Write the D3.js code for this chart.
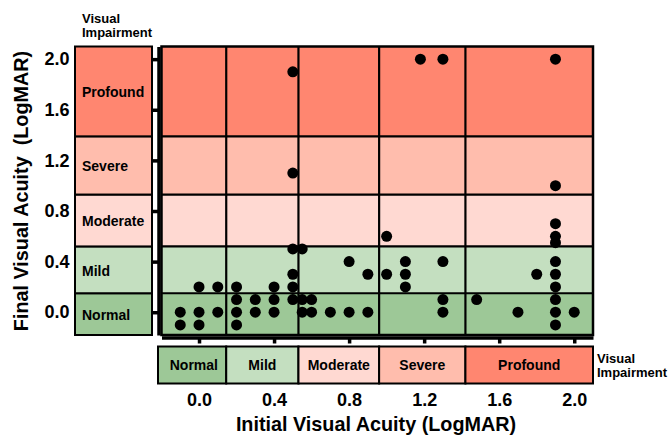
<!DOCTYPE html>
<html>
<head>
<meta charset="utf-8">
<script src="https://cdn.jsdelivr.net/npm/d3@7"></script>
<style>
  html, body { margin: 0; padding: 0; background: #fff; }
  svg { display: block; font-family: "Liberation Sans", Arial, sans-serif; font-weight: bold; }
</style>
</head>
<body>
<svg id="chart" width="671" height="437"></svg>
<script>
// Impairment categories, ordered from best to worst acuity
const levels = ["Normal", "Mild", "Moderate", "Severe", "Profound"];
const levelColors = ["#9dc897", "#c4dfc0", "#ffd9d2", "#ffbdad", "#ff8670"];

// Category boundaries (LogMAR) along each axis, including the axis ends
const xCuts = [-0.2, 0.145, 0.53, 0.96, 1.42, 2.1];
const yCuts = [-0.18, 0.15, 0.52, 0.93, 1.39, 2.1];

// Tick values shared by both axes
const tickValues = [0.0, 0.4, 0.8, 1.2, 1.6, 2.0];

// Patients: initial and final visual acuity (LogMAR)
const initialVA = [
  -0.1, 0.0, 0.1, 0.2, 0.3, 0.4, 0.55, 0.6, 0.7, 0.8, 0.9, 1.3, 1.7, 1.9, 2.0,
  -0.1, 0.0, 0.2, 1.9,
  0.2, 0.3, 0.4, 0.5, 0.55, 0.6, 1.3, 1.48, 1.9,
  0.0, 0.1, 0.2, 0.4, 0.5, 1.1, 1.9,
  0.5, 0.9, 1.0, 1.1, 1.8, 1.9,
  0.8, 1.1, 1.3, 1.9,
  0.5, 0.55, 1.9, 1.9, 1.0,
  1.9, 1.9, 0.5,
  0.5, 1.18, 1.3, 1.9
];
const finalVA = [
  0.0, 0.0, 0.0, 0.0, 0.0, 0.0, 0.0, 0.0, 0.0, 0.0, 0.0, 0.0, 0.0, 0.0, 0.0,
  -0.1, -0.1, -0.1, -0.1,
  0.1, 0.1, 0.1, 0.1, 0.1, 0.1, 0.1, 0.1, 0.1,
  0.2, 0.2, 0.2, 0.2, 0.2, 0.2, 0.2,
  0.3, 0.3, 0.3, 0.3, 0.3, 0.3,
  0.4, 0.4, 0.4, 0.4,
  0.5, 0.5, 0.55, 0.6, 0.6,
  0.7, 1.0, 1.1,
  1.9, 2.0, 2.0, 2.0
];

const svg = d3.select("#chart");
svg.append("rect").attr("width", 671).attr("height", 437).attr("fill", "#fff");

const x = d3.scaleLinear().domain([-0.2, 2.1]).range([161.5, 593]);
const y = d3.scaleLinear().domain([-0.18, 2.1]).range([335, 46.5]);

const bands = d3.range(levels.length).map(i => ({
  name: levels[i], color: levelColors[i],
  x0: xCuts[i], x1: xCuts[i + 1], y0: yCuts[i], y1: yCuts[i + 1]
}));

// ---- Main plot: horizontal bands coloured by final impairment ----
const plot = svg.append("g");
plot.selectAll("rect.band").data(bands).join("rect")
  .attr("class", "band")
  .attr("x", x(-0.2)).attr("width", x(2.1) - x(-0.2))
  .attr("y", d => y(d.y1)).attr("height", d => y(d.y0) - y(d.y1))
  .attr("fill", d => d.color);

plot.selectAll("line.hcut").data(yCuts.slice(1, -1)).join("line")
  .attr("class", "hcut")
  .attr("x1", x(-0.2)).attr("x2", x(2.1))
  .attr("y1", d => y(d)).attr("y2", d => y(d))
  .attr("stroke", "#000").attr("stroke-width", 2.2);
plot.selectAll("line.vcut").data(xCuts.slice(1, -1)).join("line")
  .attr("class", "vcut")
  .attr("x1", d => x(d)).attr("x2", d => x(d))
  .attr("y1", y(2.1)).attr("y2", y(-0.18))
  .attr("stroke", "#000").attr("stroke-width", 2.2);
plot.append("rect")
  .attr("x", x(-0.2)).attr("y", y(2.1))
  .attr("width", x(2.1) - x(-0.2)).attr("height", y(-0.18) - y(2.1))
  .attr("fill", "none").attr("stroke", "#000").attr("stroke-width", 2.5);

// Patient points
plot.selectAll("circle").data(d3.range(initialVA.length)).join("circle")
  .attr("cx", i => x(initialVA[i])).attr("cy", i => y(finalVA[i]))
  .attr("r", 5.5).attr("fill", "#000");

// ---- Axes ----
const yAxis = svg.append("g").attr("transform", "translate(158.5,0)")
  .call(d3.axisLeft(y).tickValues(tickValues).tickFormat(d3.format(".1f"))
    .tickSize(6).tickSizeOuter(0).tickPadding(83));
yAxis.select(".domain").attr("stroke-width", 3.5);
yAxis.selectAll(".tick line").attr("stroke-width", 3.5);
yAxis.selectAll(".tick text").attr("font-size", 18).attr("font-weight", "bold")
  .attr("font-family", "Liberation Sans, Arial, sans-serif");

const xAxis = svg.append("g").attr("transform", "translate(0,337.5)")
  .call(d3.axisBottom(x).tickValues(tickValues).tickFormat(d3.format(".1f"))
    .tickSize(6).tickSizeOuter(0).tickPadding(50));
xAxis.select(".domain").attr("stroke-width", 3.5);
xAxis.selectAll(".tick line").attr("stroke-width", 3.5);
xAxis.selectAll(".tick text").attr("font-size", 18).attr("font-weight", "bold")
  .attr("font-family", "Liberation Sans, Arial, sans-serif");

// ---- Left category strip (final acuity) ----
const left = svg.append("g");
left.selectAll("rect").data(bands).join("rect")
  .attr("x", 75).attr("width", 77)
  .attr("y", d => y(d.y1)).attr("height", d => y(d.y0) - y(d.y1))
  .attr("fill", d => d.color).attr("stroke", "#000").attr("stroke-width", 2);
left.selectAll("text").data(bands).join("text")
  .attr("x", 82).attr("y", d => (y(d.y0) + y(d.y1)) / 2 + 1)
  .attr("dy", "0.35em").attr("font-size", 14).text(d => d.name);

// ---- Bottom category strip (initial acuity) ----
const bottom = svg.append("g");
bottom.selectAll("rect").data(bands).join("rect")
  .attr("x", d => x(d.x0) - (d.x0 === -0.2 ? 3.5 : 0))
  .attr("width", d => x(d.x1) - x(d.x0) + (d.x0 === -0.2 ? 3.5 : 0))
  .attr("y", 346.5).attr("height", 37)
  .attr("fill", d => d.color).attr("stroke", "#000").attr("stroke-width", 2);
bottom.selectAll("text").data(bands).join("text")
  .attr("x", d => (x(d.x0) + x(d.x1)) / 2).attr("y", 365)
  .attr("dy", "0.35em").attr("text-anchor", "middle").attr("font-size", 14)
  .text(d => d.name);

// ---- Strip captions ----
const cap = svg.append("g").attr("font-size", 13);
cap.append("text").attr("x", 82).attr("y", 22.5).text("Visual");
cap.append("text").attr("x", 82).attr("y", 37).text("Impairment");
cap.append("text").attr("x", 597).attr("y", 363).text("Visual");
cap.append("text").attr("x", 597).attr("y", 377).text("Impairment");

// ---- Axis titles ----
svg.append("text").attr("x", 376).attr("y", 431).attr("text-anchor", "middle")
  .attr("font-size", 19.8).text("Initial Visual Acuity (LogMAR)");
svg.append("text").attr("transform", "translate(28,191) rotate(-90)")
  .attr("text-anchor", "middle").attr("font-size", 19.8)
  .attr("xml:space", "preserve").text("Final Visual Acuity  (LogMAR)");
</script>
</body>
</html>
